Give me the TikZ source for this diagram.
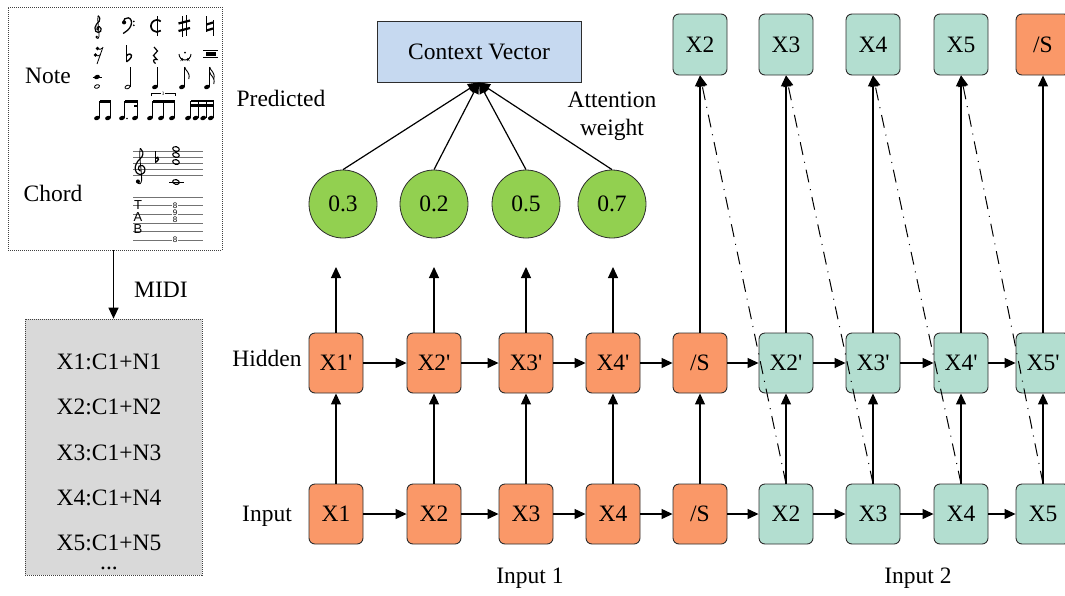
\documentclass[tikz,border=0pt]{standalone}
\usepackage{fontspec}
\setmainfont{Liberation Serif}
\newfontfamily\tabfont{Liberation Sans}
\usetikzlibrary{arrows.meta}

\definecolor{boxorange}{RGB}{250,152,104}
\definecolor{boxteal}{RGB}{179,222,208}
\definecolor{cvblue}{RGB}{198,217,240}
\definecolor{circgreen}{RGB}{146,208,80}
\definecolor{midigray}{RGB}{217,217,217}
\definecolor{edge}{RGB}{45,45,45}

% straight prime for hidden-state labels
\newcommand{\hs}{\textquotesingle}

% small music glyphs (coordinates: x right, y down, in pt)
\newcommand{\solidhead}[2]{\fill[rotate around={20:(#1,#2)}] (#1,#2) ellipse (3 and 2.1);}
\newcommand{\openhead}[2]{\draw[line width=0.8pt, rotate around={20:(#1,#2)}] (#1,#2) ellipse (2.6 and 1.7);}
\newcommand{\wholenote}[2]{\draw[line width=1.1pt, rotate around={-15:(#1,#2)}] (#1,#2) ellipse (3.4 and 2.3);}
\newcommand{\stemup}[3]{\draw[line width=0.6pt] (#1+2.7,#2-0.5) -- (#1+2.7,#3);}
\newcommand{\flagat}[2]{\draw[line width=0.9pt] (#1,#2) .. controls (#1+0.5,#2+4) and (#1+6,#2+5) .. (#1+4,#2+12);}
\newcommand{\gclef}[3]{%
  \begin{scope}[shift={(#1,#2)}, x=#3pt, y=#3pt]
    \draw[line width=1.2pt, line cap=round] plot[smooth, tension=0.6] coordinates
      {(0.05,3.2) (0.45,2.6) (0.3,1.9) (-0.35,1.2) (-0.75,0.3) (-0.55,-0.55) (0.05,-0.85)
       (0.65,-0.55) (0.75,0.1) (0.35,0.55) (-0.15,0.45) (-0.25,0.0) (0.05,-0.3)};
    \draw[line width=0.8pt] plot[smooth, tension=0.6] coordinates
      {(0.05,3.2) (-0.05,2.4) (0.05,1.0) (0.2,-0.5) (0.25,-1.8) (0.0,-2.3) (-0.35,-2.2)};
    \fill (-0.32,-1.95) circle[radius=0.32];
  \end{scope}}
\newcommand{\fclef}[3]{%
  \begin{scope}[shift={(#1,#2)}, x=#3pt, y=#3pt]
    \draw[line width=1.3pt] plot[smooth, tension=0.7] coordinates
      {(-0.5,0.45) (-0.35,0.95) (0.2,1.1) (0.65,0.7) (0.6,-0.1) (0.1,-0.8) (-0.6,-1.3)};
    \fill (-0.45,0.4) circle[radius=0.32];
    \fill (1.05,0.55) circle[radius=0.15];
    \fill (1.05,-0.05) circle[radius=0.15];
  \end{scope}}
% flat sign: centre x, centre y, scale (1 = 17pt tall)
\newcommand{\flatsign}[3]{%
  \begin{scope}[shift={(#1,#2)}, x=#3pt, y=-#3pt]
    \draw[line width=0.8pt] (-2.5,-8.5) -- (-2.5,8.5);
    \draw[line width=1.4pt] (-2.5,8.3) .. controls (2,5.5) and (4.2,1.5) .. (1,0.6)
      .. controls (-0.6,0.2) and (-2,1.5) .. (-2.5,2.5);
  \end{scope}}

\begin{document}
\begin{tikzpicture}[x=1pt, y=-1pt,
  font=\fontsize{23.5}{28}\selectfont,
  seqbox/.style={draw=edge, line width=0.9pt, rounded corners=6pt,
    minimum width=54pt, minimum height=60pt, inner sep=0pt},
  encbox/.style={seqbox, fill=boxorange},
  decbox/.style={seqbox, fill=boxteal},
  weight/.style={circle, draw=edge, line width=0.8pt, fill=circgreen,
    minimum size=68pt, inner sep=0pt},
  arr/.style={line width=1.2pt, -{Triangle[length=11pt,width=10pt]}},
  teacher/.style={line width=1pt, dash pattern=on 13pt off 7pt on 1pt off 7pt,
    -{Triangle[length=11pt,width=10pt]}},
  dotbox/.style={draw=black!75, line width=0.7pt, dash pattern=on 1pt off 1pt},
  lbl/.style={inner sep=0pt},
]
\useasboundingbox (0,0) rectangle (1065,595);
\clip (0,0) rectangle (1065,595);

% ---------- source material and MIDI encoding ----------
\node[dotbox, minimum width=214pt, minimum height=243pt] (src) at (115,128.5) {};
\node[dotbox, fill=midigray, minimum width=177pt, minimum height=256pt] (midi) at (113.5,447) {};
\node[lbl] (note) at (48,76) {Note};
\node[lbl] (chord) at (53,193) {Chord};
\node[lbl] (midilbl) at (161,290) {MIDI};
\draw[arr] (src.south -| midi.north) -- (midi.north);

\node[lbl] (m1) at (109,362) {X1:C1+N1};
\node[lbl] (m2) at (109,407) {X2:C1+N2};
\node[lbl] (m3) at (109,453) {X3:C1+N3};
\node[lbl] (m4) at (109,498) {X4:C1+N4};
\node[lbl] (m5) at (109,543) {X5:C1+N5};
\node[lbl] (m6) at (109,568) {...};

% note symbols, row 1
\gclef{98}{29}{4.1}
\fclef{127}{25}{6.5}
\begin{scope}[shift={(157,26)}, y=1pt]
  \draw[line width=1.7pt] (3.8,4.6) arc[start angle=50, end angle=310, radius=6];
  \draw[line width=0.8pt] (-0.1,-10) -- (-0.1,10);
\end{scope}
% sharp
\draw[line width=0.8pt] (182,16) -- (182,37) (186.5,15) -- (186.5,36);
\draw[line width=2.2pt] (178.5,23.5) -- (190,20.5) (178.5,31) -- (190,28);
% natural
\draw[line width=0.8pt] (206.5,16) -- (206.5,32) (213,20) -- (213,36);
\draw[line width=2.2pt] (206.5,24.5) -- (213,22.5) (206.5,30.5) -- (213,28.5);

% row 2
\draw[line width=0.8pt] (103,47) -- (97,64);
\fill (97.5,48.5) circle[radius=1.8];
\draw[line width=0.8pt] (97.5,48.5) .. controls (99,50) and (101,49.5) .. (102.5,48);
\fill (95.5,55) circle[radius=1.8];
\draw[line width=0.8pt] (95.5,55) .. controls (97,56.5) and (99,56) .. (100.8,54.5);
\flatsign{129}{53.5}{1}
\draw[line width=1.2pt] (154,47) -- (157.5,51) -- (153.5,55.5) -- (157,59.5)
  .. controls (153,58.5) and (152.5,61.5) .. (155.5,63.5);
\draw[line width=0.9pt] (179,54) arc[start angle=180, end angle=0, radius=6];
\fill (185,52.5) circle[radius=1];
\draw[line width=0.5pt] (180.5,58) -- (183,61) (183,58) -- (180.5,61)
  (187,58) -- (189.5,61) (189.5,58) -- (187,61);
\draw[line width=0.7pt] (203,50.5) -- (218,50.5) (203,57.5) -- (218,57.5);
\fill (205.5,52) rectangle (215.5,56);

% row 3
\draw[line width=0.6pt] (92.5,77) -- (102,77);
\solidhead{97}{77}
\openhead{97}{86.5}
\openhead{127.5}{87}   \stemup{127.5}{87}{67}
\solidhead{155}{87}    \stemup{155}{87}{67}
\solidhead{182}{87}    \stemup{182}{87}{67}  \flagat{184.7}{67}
\solidhead{207}{87}    \stemup{207}{87}{67}  \flagat{209.7}{67} \flagat{209.7}{72}

% row 4: beamed groups
\foreach \hx in {97,108} {\solidhead{\hx}{118} \stemup{\hx}{118}{101}}
\fill (99.7,100) rectangle (110.7,102.6);
\foreach \hx in {122,135} {\solidhead{\hx}{118} \stemup{\hx}{118}{101}}
\fill (124.7,100) rectangle (137.7,102.6);
\fill (133.5,104.5) rectangle (137.7,107);
\fill (127,118.5) circle[radius=0.9];
\foreach \hx in {150,161,172} {\solidhead{\hx}{118} \stemup{\hx}{118}{101}}
\fill (152.7,100) rectangle (174.7,102.6);
\draw[line width=0.5pt] (151,96) -- (151,93.5) -- (175,93.5) -- (175,96);
\node[inner sep=0.6pt, fill=white, font=\fontsize{5}{5}\selectfont] (trip) at (163,93.5) {3};
\foreach \hx in {188,195.6,203.2,210.8} {\solidhead{\hx}{118} \stemup{\hx}{118}{101}}
\fill (190.7,100) rectangle (213.5,102.4);
\fill (190.7,104.2) rectangle (213.5,106.6);

% chord on a staff
\foreach \sy in {151,157,163,169,175} \draw[line width=0.4pt, black!55] (133,\sy) -- (203,\sy);
\gclef{140}{169}{6.4}
\flatsign{157}{157}{0.65}
\wholenote{176}{149}
\wholenote{176}{155}
\wholenote{176}{162}
\draw[line width=0.7pt] (169,182) -- (184,182);
\wholenote{176}{182}

% tablature
\foreach \sy in {197,205.6,214.2,222.8,231.4,240} \draw[line width=0.4pt, black!55] (133,\sy) -- (203,\sy);
\node[lbl, font=\tabfont\fontsize{13}{13}\selectfont] (tabT) at (138,205) {T};
\node[lbl, font=\tabfont\fontsize{13}{13}\selectfont] (tabA) at (138,217) {A};
\node[lbl, font=\tabfont\fontsize{13}{13}\selectfont] (tabB) at (138,229) {B};
\foreach \ty/\tv in {205.6/8,212.8/9,220/8,240/8}
  \node[inner sep=0.3pt, fill=white, font=\tabfont\fontsize{8}{8}\selectfont] at (175,\ty) {\tv};

% ---------- encoder: input and hidden rows ----------
\foreach \n/\x in {1/336,2/434,3/526,4/613} {
  \node[encbox] (in\n) at (\x,514) {X\n};
  \node[encbox] (hd\n) at (\x,363) {X\n\hs};
}
\node[encbox] (inS) at (700,514) {/S};
\node[encbox] (hdS) at (700,363) {/S};

% ---------- decoder: input and hidden rows ----------
\foreach \n/\x in {2/786,3/873,4/961,5/1043} {
  \node[decbox] (de\n) at (\x,514) {X\n};
  \node[decbox] (dh\n) at (\x,363) {X\n\hs};
}

% ---------- decoder outputs ----------
\node[decbox, minimum height=61pt] (tp2) at (700,44.5) {X2};
\node[decbox, minimum height=61pt] (tp3) at (786,44.5) {X3};
\node[decbox, minimum height=61pt] (tp4) at (873,44.5) {X4};
\node[decbox, minimum height=61pt] (tp5) at (961,44.5) {X5};
\node[encbox, minimum height=61pt] (tpS) at (1043,44.5) {/S};

% ---------- attention ----------
\node[draw=edge, line width=0.9pt, fill=cvblue, minimum width=204pt, minimum height=61pt,
  inner sep=0pt] (cv) at (479,51.5) {Context Vector};
\node[weight] (w1) at (343,204) {0.3};
\node[weight] (w2) at (434,204) {0.2};
\node[weight] (w3) at (526,204) {0.5};
\node[weight] (w4) at (612,204) {0.7};
\foreach \k in {1,...,4} \draw[arr] (w\k.north) -- (cv.south);

\coordinate (u1) at (336,267);
\coordinate (u2) at (434,267);
\coordinate (u3) at (526,267);
\coordinate (u4) at (613,267);

% ---------- labels ----------
\node[lbl] (pred) at (281,98) {Predicted};
\node[lbl, align=center] (attn) at (612,116) {Attention\\weight};
\node[lbl] (hidlbl) at (267,358) {Hidden};
\node[lbl] (inlbl) at (267,516) {Input};
\node[lbl] (in1lbl) at (530,578) {Input 1};
\node[lbl] (in2lbl) at (918,578) {Input 2};

% ---------- connectors ----------
\foreach \a/\b in {in1/in2,in2/in3,in3/in4,in4/inS,inS/de2,de2/de3,de3/de4,de4/de5,
                   hd1/hd2,hd2/hd3,hd3/hd4,hd4/hdS,hdS/dh2,dh2/dh3,dh3/dh4,dh4/dh5}
  \draw[arr] (\a) -- (\b);
\foreach \k in {1,...,4} {
  \draw[arr] (in\k) -- (hd\k);
  \draw[arr] (hd\k.north) -- (u\k);
}
\draw[arr] (inS) -- (hdS);
\foreach \k in {2,...,5} \draw[arr] (de\k) -- (dh\k);

\draw[arr] (hdS.north) -- (tp2.south);
\draw[arr] (dh2.north) -- (tp3.south);
\draw[arr] (dh3.north) -- (tp4.south);
\draw[arr] (dh4.north) -- (tp5.south);
\draw[arr] (dh5.north) -- (tpS.south);

% ground-truth tokens fed back as next inputs
\foreach \k in {2,...,5} \draw[teacher] (de\k.north) -- (tp\k.south);
\end{tikzpicture}
\end{document}
